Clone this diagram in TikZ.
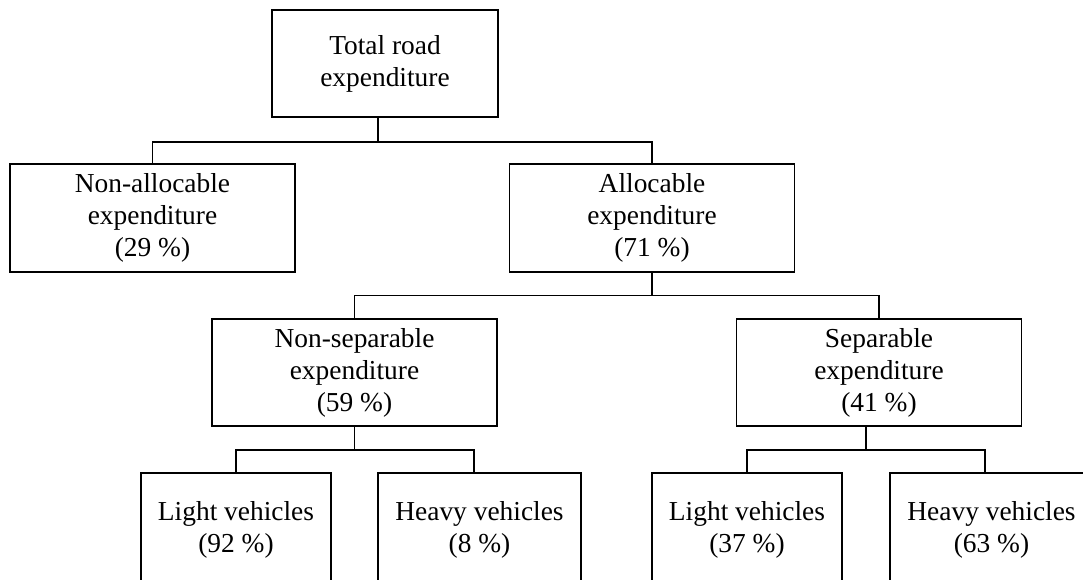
\documentclass[tikz,border=0pt]{standalone}
\usepackage{fontspec}
\setmainfont{Liberation Serif}
\usepackage{tikz}
\usetikzlibrary{shapes.geometric, arrows}
\tikzstyle{costbox} = [rectangle, minimum width=5.7cm, minimum height=2.16cm, inner sep=0pt, align=center, draw=black, line width=0.9pt, font=\fontsize{15.6pt}{18.2pt}\selectfont]
\tikzstyle{vehbox} = [costbox, minimum width=3.8cm, minimum height=2.28cm]
\tikzstyle{link} = [line width=0.9pt]

\begin{document}
\begin{tikzpicture}[node distance=3.09cm]
        \useasboundingbox (0,0) rectangle (21.66,-11.58);
        \clip (0,0) rectangle (21.66,-11.58);
        \node (t1) [costbox, minimum width=4.52cm, minimum height=2.14cm] at (7.70,-1.27) {Total road\\expenditure};
        \node (a1) [costbox, below of=t1, xshift=-4.65cm] {Non-allocable\\expenditure\\(29 \%)};
        \node (a2) [costbox, below of=t1, xshift=5.34cm] {Allocable\\expenditure\\(71 \%)};
        \node (b1) [costbox, below of=a2, xshift=-5.95cm, minimum height=2.14cm] {Non-separable\\expenditure\\(59 \%)};
        \node (b2) [costbox, below of=a2, xshift=4.54cm, minimum height=2.14cm] {Separable\\expenditure\\(41 \%)};
        \node (c1) [vehbox, below of=b1, xshift=-2.37cm, yshift=-0.06cm] {Light vehicles\\(92 \%)};
        \node (c2) [vehbox, below of=b1, xshift=2.50cm, yshift=-0.06cm, minimum width=4.06cm] {Heavy vehicles\\(8 \%)};
        \node (c3) [vehbox, below of=b2, xshift=-2.64cm, yshift=-0.06cm] {Light vehicles\\(37 \%)};
        \node (c4) [vehbox, below of=b2, xshift=2.25cm, yshift=-0.06cm, minimum width=4.06cm] {Heavy vehicles\\(63 \%)};
        \coordinate (j1) at ([xshift=-1.4mm, yshift=-4.8mm]t1.south);
        \coordinate (j2) at ([yshift=-4.5mm]a2.south);
        \coordinate (j3) at ([yshift=-4.6mm]b1.south);
        \coordinate (j4) at ([xshift=-2.6mm, yshift=-4.6mm]b2.south);
        \draw [link] (j1 |- t1.south) -- (j1);
        \draw [link] (a1.north) |- (j1) -| (a2.north);
        \draw [link] (a2.south) -- (j2);
        \draw [link] (b1.north) |- (j2) -| (b2.north);
        \draw [link] (b1.south) -- (j3);
        \draw [link] (c1.north) |- (j3) -| ([xshift=-1.1mm]c2.north);
        \draw [link] (j4 |- b2.south) -- (j4);
        \draw [link] (c3.north) |- (j4) -| ([xshift=-1.3mm]c4.north);
    \end{tikzpicture}
\end{document}
